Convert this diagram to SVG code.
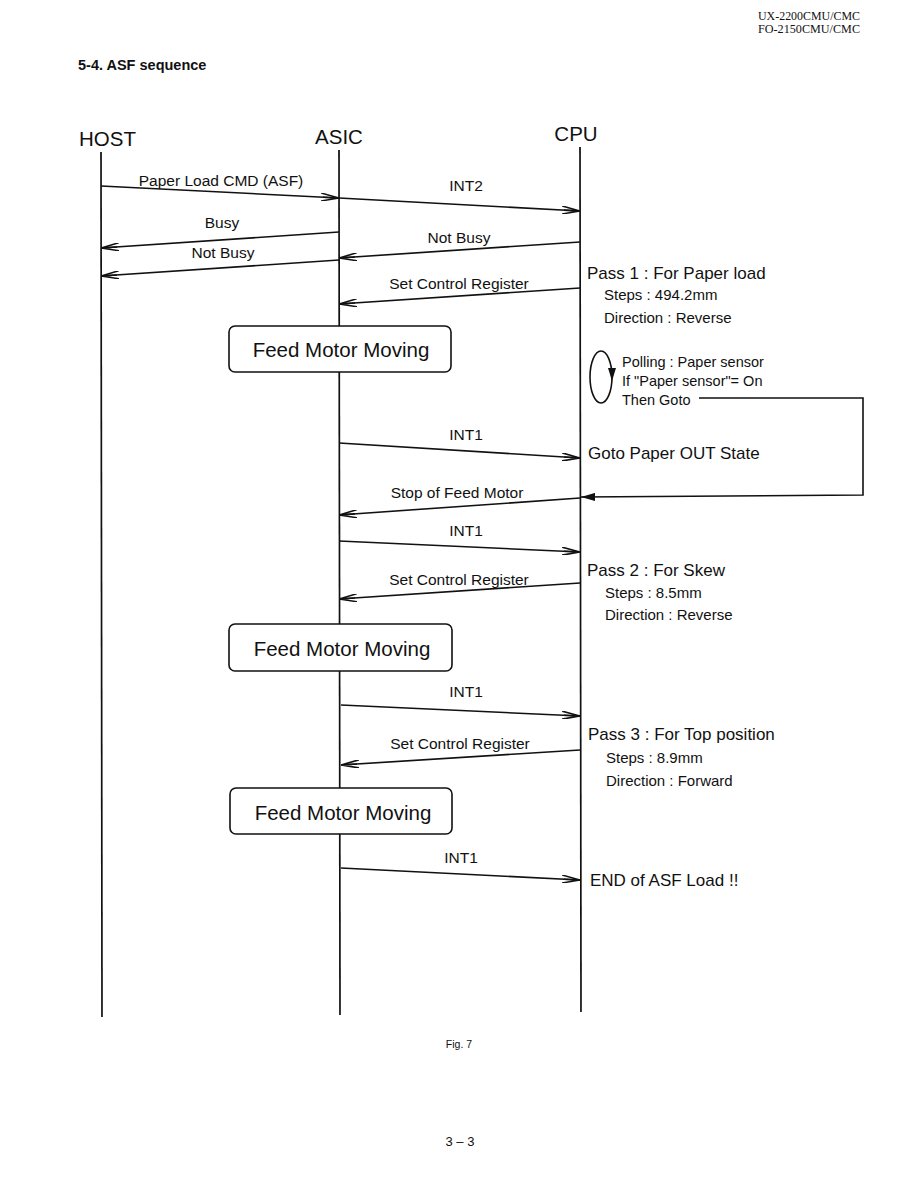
<svg xmlns="http://www.w3.org/2000/svg" width="918" height="1188" viewBox="0 0 918 1188">
<style>
.t{font-family:"Liberation Sans",Arial,sans-serif;fill:#111}
.h{font-size:20.5px}
.m{font-size:15.5px}
.p{font-size:17px}
.s{font-size:15px}
.b{font-size:20.5px}
.ser{font-family:"Liberation Serif","Times New Roman",serif;font-size:11.5px;fill:#111}
.life{stroke:#111;stroke-width:1.7;fill:none}
.msg{stroke:#111;stroke-width:1.6;fill:none;marker-end:url(#arr)}
.box{fill:#fff;stroke:#111;stroke-width:1.6}
</style>
<defs>
<marker id="arr" viewBox="0 0 18 8" markerWidth="18" markerHeight="8" refX="18" refY="4" orient="auto" markerUnits="userSpaceOnUse">
<path d="M0,0 L18,4 L0,8 M2,4 L18,4" fill="none" stroke="#111" stroke-width="1.6"/>
</marker>
<marker id="farr" viewBox="0 0 14 8" markerWidth="14" markerHeight="8" refX="14" refY="4" orient="auto" markerUnits="userSpaceOnUse">
<path d="M0,0 L14,4 L0,8 Z" fill="#111"/>
</marker>
</defs>
<rect width="918" height="1188" fill="#fff"/>
<text class="ser" x="758" y="20" textLength="102" lengthAdjust="spacingAndGlyphs">UX-2200CMU/CMC</text>
<text class="ser" x="758" y="33" textLength="102" lengthAdjust="spacingAndGlyphs">FO-2150CMU/CMC</text>
<text class="t" x="78" y="70" font-size="14.5" font-weight="bold">5-4. ASF sequence</text>

<g id="host"><text class="t h" x="79" y="146">HOST</text><line class="life" x1="101" y1="152" x2="102" y2="1017"/></g>
<g id="asic"><text class="t h" x="339" y="144" text-anchor="middle">ASIC</text><line class="life" x1="339" y1="150" x2="340" y2="1015"/></g>
<g id="cpu"><text class="t h" x="576" y="141" text-anchor="middle">CPU</text><line class="life" x1="580" y1="147" x2="581" y2="1012"/></g>

<g id="feed1"><rect class="box" x="229" y="326" width="222" height="46" rx="6"/><text class="t b" x="341" y="357" text-anchor="middle">Feed Motor Moving</text></g>
<g id="feed2"><rect class="box" x="229" y="624" width="223" height="47" rx="6"/><text class="t b" x="342" y="656" text-anchor="middle">Feed Motor Moving</text></g>
<g id="feed3"><rect class="box" x="230" y="788" width="222" height="46" rx="6"/><text class="t b" x="343" y="820" text-anchor="middle">Feed Motor Moving</text></g>

<g id="pass1">
<text class="t p" x="587" y="279">Pass 1 : For Paper load</text>
<text class="t s" x="604" y="300">Steps : 494.2mm</text>
<text class="t s" x="604" y="323">Direction : Reverse</text>
</g>
<g id="polling">
<ellipse cx="601" cy="377" rx="11" ry="26" fill="none" stroke="#111" stroke-width="1.6"/>
<path d="M608,368 L612,381 L616,368 Z" fill="#111"/>
<text class="t" x="622" y="367" font-size="14.5">Polling : Paper sensor</text>
<text class="t" x="622" y="386" font-size="14.5">If "Paper sensor"= On</text>
<text class="t" x="622" y="405" font-size="14.5">Then Goto</text>
</g>
<g id="gotoout"><text class="t p" x="588" y="459">Goto Paper OUT State</text></g>
<g id="pass2">
<text class="t p" x="587" y="576">Pass 2 : For Skew</text>
<text class="t s" x="605" y="598">Steps : 8.5mm</text>
<text class="t s" x="605" y="620">Direction : Reverse</text>
</g>
<g id="pass3">
<text class="t p" x="588" y="740">Pass 3 : For Top position</text>
<text class="t s" x="606" y="763">Steps : 8.9mm</text>
<text class="t s" x="606" y="786">Direction : Forward</text>
</g>
<g id="end"><text class="t p" x="590" y="886">END of ASF Load !!</text></g>

<g id="connectors">
<line class="msg" x1="101" y1="186" x2="339" y2="198"/>
<text class="t m" x="221" y="186" text-anchor="middle">Paper Load CMD (ASF)</text>
<line class="msg" x1="339" y1="198" x2="580" y2="211"/>
<text class="t m" x="466" y="191" text-anchor="middle">INT2</text>
<line class="msg" x1="339" y1="232" x2="101" y2="248"/>
<text class="t m" x="222" y="228" text-anchor="middle">Busy</text>
<line class="msg" x1="580" y1="242" x2="339" y2="258"/>
<text class="t m" x="459" y="243" text-anchor="middle">Not Busy</text>
<line class="msg" x1="339" y1="260" x2="101" y2="276"/>
<text class="t m" x="223" y="258" text-anchor="middle">Not Busy</text>
<line class="msg" x1="580" y1="288" x2="339" y2="304"/>
<text class="t m" x="459" y="289" text-anchor="middle">Set Control Register</text>
<polyline points="699,398 863,398 863,495 581,497" fill="none" stroke="#111" stroke-width="1.6" marker-end="url(#farr)"/>
<line class="msg" x1="339" y1="443" x2="580" y2="458"/>
<text class="t m" x="466" y="440" text-anchor="middle">INT1</text>
<line class="msg" x1="580" y1="498" x2="339" y2="515"/>
<text class="t m" x="457" y="498" text-anchor="middle">Stop of Feed Motor</text>
<line class="msg" x1="339" y1="541" x2="580" y2="552"/>
<text class="t m" x="466" y="536" text-anchor="middle">INT1</text>
<line class="msg" x1="580" y1="583" x2="339" y2="599"/>
<text class="t m" x="459" y="585" text-anchor="middle">Set Control Register</text>
<line class="msg" x1="341" y1="705" x2="580" y2="716"/>
<text class="t m" x="466" y="697" text-anchor="middle">INT1</text>
<line class="msg" x1="580" y1="750" x2="341" y2="765"/>
<text class="t m" x="460" y="749" text-anchor="middle">Set Control Register</text>
<line class="msg" x1="341" y1="868" x2="580" y2="880"/>
<text class="t m" x="461" y="863" text-anchor="middle">INT1</text>
</g>

<text class="t" x="459" y="1048" font-size="10.5" text-anchor="middle">Fig. 7</text>
<text class="t" x="460" y="1146" font-size="13" text-anchor="middle">3 – 3</text>
</svg>
